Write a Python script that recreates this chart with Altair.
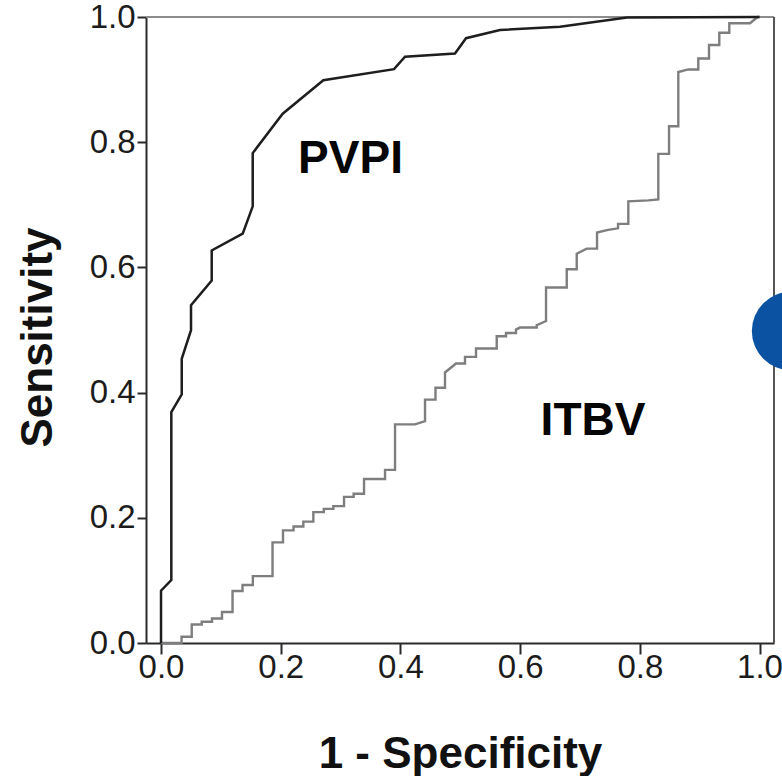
import altair as alt
import pandas as pd

# ROC curve vertices (1 - specificity, sensitivity)
pvpi_fpr = [0.0, 0.0, 0.0172, 0.0172, 0.0346, 0.0346, 0.0501, 0.0501, 0.0847, 0.0847,
            0.1365, 0.1532, 0.1532, 0.2033, 0.2712, 0.3893, 0.4077, 0.4912, 0.5096,
            0.5664, 0.6667, 0.7786, 1.0]
pvpi_sens = [0.0, 0.0835, 0.1006, 0.369, 0.397, 0.454, 0.4996, 0.5395, 0.579, 0.627,
             0.654, 0.6975, 0.7826, 0.8455, 0.899, 0.9167, 0.9365, 0.9417, 0.9661,
             0.9793, 0.9843, 0.9992, 1.0]

itbv_fpr = [0.0, 0.0343, 0.0343, 0.0513, 0.0513, 0.0680, 0.0680, 0.0852, 0.0852, 0.1019,
            0.1019, 0.1195, 0.1195, 0.1362, 0.1362, 0.1534, 0.1534, 0.1863, 0.1863, 0.2038,
            0.2038, 0.2214, 0.2214, 0.2378, 0.2378, 0.2545, 0.2545, 0.2720, 0.2720, 0.2879,
            0.2879, 0.3058, 0.3058, 0.3218, 0.3218, 0.3392, 0.3392, 0.3743, 0.3743, 0.3910,
            0.3910, 0.4244, 0.4411, 0.4411, 0.4586, 0.4586, 0.4745, 0.4745, 0.4929, 0.5079,
            0.5079, 0.5263, 0.5263, 0.5609, 0.5609, 0.5764, 0.5764, 0.5931, 0.5931, 0.5998,
            0.6277, 0.6277, 0.6433, 0.6433, 0.6779, 0.6779, 0.6946, 0.6946, 0.7113, 0.7285,
            0.7285, 0.7469, 0.7636, 0.7636, 0.7808, 0.7808, 0.8142, 0.8309, 0.8309, 0.8488,
            0.8488, 0.8643, 0.8643, 0.8810, 0.8977, 0.8977, 0.9156, 0.9156, 0.9328, 0.9328,
            0.9495, 0.9495, 0.9841, 0.9967, 1.0]
itbv_sens = [0.0, 0.0, 0.0101, 0.0101, 0.0295, 0.0295, 0.0340, 0.0340, 0.0391, 0.0391,
             0.0495, 0.0495, 0.0830, 0.0830, 0.0926, 0.0926, 0.1069, 0.1069, 0.1607, 0.1607,
             0.1799, 0.1799, 0.1860, 0.1860, 0.1939, 0.1939, 0.2091, 0.2091, 0.2142, 0.2142,
             0.2187, 0.2187, 0.2335, 0.2335, 0.2383, 0.2383, 0.2621, 0.2621, 0.2766, 0.2766,
             0.3492, 0.3492, 0.3543, 0.3887, 0.3887, 0.4078, 0.4078, 0.4322, 0.4464, 0.4464,
             0.4570, 0.4570, 0.4704, 0.4704, 0.4900, 0.4900, 0.4953, 0.4953, 0.5007, 0.5039,
             0.5039, 0.5076, 0.5144, 0.5678, 0.5678, 0.5970, 0.5970, 0.6220, 0.6300, 0.6300,
             0.6557, 0.6600, 0.6624, 0.6696, 0.6696, 0.7055, 0.7071, 0.7087, 0.7813, 0.7813,
             0.8255, 0.8255, 0.9122, 0.9162, 0.9162, 0.9338, 0.9338, 0.9553, 0.9553, 0.9748,
             0.9748, 0.9901, 0.9901, 1.0, 1.0]

# curve labels and where they sit
curve_names = ["PVPI", "ITBV"]
label_fpr = [0.3166, 0.7218]
label_sens = [0.7502, 0.3320]

tick_values = [0.0, 0.2, 0.4, 0.6, 0.8, 1.0]

W, H = 628, 626
FONT = "Liberation Sans"
INK = "#1c1c1c"

pvpi = pd.DataFrame({"fpr": pvpi_fpr, "sens": pvpi_sens, "i": range(len(pvpi_fpr))})
itbv = pd.DataFrame({"fpr": itbv_fpr, "sens": itbv_sens, "i": range(len(itbv_fpr))})
labels = pd.DataFrame({"name": curve_names, "fpr": label_fpr, "sens": label_sens})

x_enc = alt.X(
    "fpr:Q",
    scale=alt.Scale(domain=[-0.0251, 1.0242], nice=False, zero=False),
    axis=alt.Axis(
        values=tick_values, format=".1f", title="1 - Specificity", grid=False,
        domainColor="#2a2a2a", domainWidth=2, tickColor="#2a2a2a", tickWidth=2,
        tickSize=11, labelPadding=-3, labelFont=FONT, labelFontSize=33,
        labelColor=INK, labelFlush=False, titleFont=FONT, titleFontSize=44,
        titleFontWeight="bold", titleColor="#111111", titleBaseline="top",
        titleY=89,
    ),
)
y_enc = alt.Y(
    "sens:Q",
    scale=alt.Scale(domain=[0, 1], nice=False),
    axis=alt.Axis(
        values=tick_values, format=".1f", title="Sensitivity", grid=False,
        domainColor="#2a2a2a", domainWidth=2, tickColor="#2a2a2a", tickWidth=2,
        tickSize=9, labelPadding=2, labelFont=FONT, labelFontSize=33,
        labelColor=INK, labelFlush=False, titleFont=FONT, titleFontSize=44,
        titleFontWeight="bold", titleColor="#111111", titleBaseline="top",
        titleAngle=270, titleX=-130, titleY=320,
    ),
)

itbv_line = alt.Chart(itbv).mark_line(color="#7e7e7e", strokeWidth=2.4).encode(
    x=x_enc, y=y_enc, order="i:Q"
)
pvpi_line = alt.Chart(pvpi).mark_line(color="#1e1e1e", strokeWidth=2.5).encode(
    x=x_enc, y=y_enc, order="i:Q"
)
names = alt.Chart(labels).mark_text(
    font=FONT, fontSize=46, fontWeight="bold", color="#050505",
    align="center", baseline="alphabetic",
).encode(x=x_enc, y=y_enc, text="name:N")

# frame edges on top and right
top_edge = alt.Chart().mark_rule(color="#8c8c8c", strokeWidth=2).encode(
    x=alt.value(0), x2=alt.value(W), y=alt.value(0)
)
right_edge = alt.Chart().mark_rule(color="#555555", strokeWidth=2).encode(
    x=alt.value(W), y=alt.value(0), y2=alt.value(H)
)

# round blue badge at the right edge
badge = alt.Chart().mark_circle(color="#0b52a3", opacity=1, size=6140, clip=False).encode(
    x=alt.value(645), y=alt.value(314)
)

chart = alt.layer(
    top_edge, right_edge, itbv_line, pvpi_line, names, badge
).properties(
    width=W, height=H,
    autosize=alt.AutoSizeParams(type="none"),
    padding={"left": 146, "top": 17, "right": 8, "bottom": 133},
).configure_view(strokeWidth=0).configure(background="white")

chart.save("out.html", embed_options={"renderer": "svg", "actions": False})
